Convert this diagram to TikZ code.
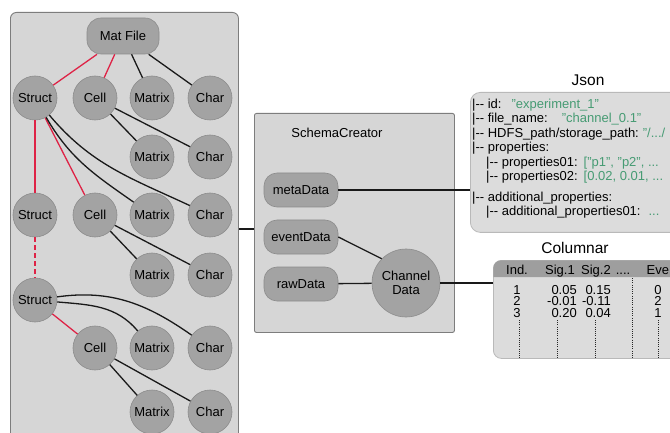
\documentclass[tikz,border=0pt]{standalone}
\usepackage{fontspec}
\setmainfont{Liberation Sans}
\definecolor{panelfill}{RGB}{214,214,214}
\definecolor{panelline}{RGB}{125,125,125}
\definecolor{nodefill}{RGB}{163,163,163}
\definecolor{nodeline}{RGB}{140,140,140}
\definecolor{linkred}{RGB}{222,35,70}
\definecolor{valgreen}{RGB}{70,155,115}
\definecolor{boxfill}{RGB}{220,220,220}
\definecolor{boxline}{RGB}{185,185,185}
\definecolor{headfill}{RGB}{158,158,158}
\newcommand\lblfont{\fontsize{13}{15}\selectfont}
\newcommand\ttlfont{\fontsize{15.5}{18}\selectfont}
\newcommand\jv[1]{\textcolor{valgreen}{#1}}
% tree branch marker: bar plus two separate hyphens
\newcommand\br{|-{}-~}
\begin{document}
\begin{tikzpicture}[x=1pt,y=-1pt,
  panel/.style={draw=panelline, fill=panelfill, line width=0.9pt, rounded corners=6pt, inner sep=0pt},
  ball/.style={circle, draw=nodeline, fill=nodefill, line width=0.6pt, minimum size=44pt, inner sep=0pt, font=\lblfont},
  pill/.style={draw=nodeline, fill=nodefill, line width=0.6pt, rounded corners=13pt, minimum width=74pt, minimum height=34pt, inner sep=0pt, font=\lblfont},
  blk/.style={line width=1.3pt, black!90},
  rd/.style={line width=1.3pt, linkred},
  txt/.style={inner sep=0pt, font=\lblfont},
  ttl/.style={inner sep=0pt, font=\ttlfont},
  jline/.style={anchor=base west, inner sep=0pt, font=\lblfont},
  num/.style={anchor=base, inner sep=0pt, font=\lblfont},
  dots/.style={line width=0.8pt, dash pattern=on 1pt off 1.2pt, black!85},
]
\useasboundingbox (0,0) rectangle (670,433);
\fill[white] (0,0) rectangle (670,433);
\clip (0,0) rectangle (670,433);

% ---------- MAT file tree ----------
\node[panel, anchor=north west, minimum width=228pt, minimum height=433pt] (matpanel) at (10,12) {};
\node[pill, minimum width=72pt, minimum height=36pt, rounded corners=14pt] (matfile) at (123,36) {Mat File};

\node[ball] (s1) at (35,98)  {Struct};
\node[ball] (c1) at (95,98)  {Cell};
\node[ball] (m1) at (152,98) {Matrix};
\node[ball] (h1) at (210,98) {Char};
\node[ball] (m2) at (152,157) {Matrix};
\node[ball] (h2) at (210,157) {Char};
\node[ball] (s3) at (35,215)  {Struct};
\node[ball] (c3) at (95,215)  {Cell};
\node[ball] (m3) at (152,215) {Matrix};
\node[ball] (h3) at (210,215) {Char};
\node[ball] (m4) at (152,275) {Matrix};
\node[ball] (h4) at (210,275) {Char};
\node[ball] (s5) at (35,300)  {Struct};
\node[ball] (c6) at (95,348)  {Cell};
\node[ball] (m6) at (152,348) {Matrix};
\node[ball] (h6) at (210,348) {Char};
\node[ball] (m7) at (152,412) {Matrix};
\node[ball] (h7) at (210,412) {Char};

\draw[rd]  (matfile) -- (s1);
\draw[rd]  (matfile) -- (c1);
\draw[blk] (matfile) -- (m1);
\draw[blk] (matfile) -- (h1);
\draw[blk] (c1) -- (m2);
\draw[blk] (c1) -- (h2);
\draw[rd]  (s1) -- (s3);
\draw[rd]  (s1) -- (c3);
\draw[blk] (s1) to[out=-60,in=145] (m3);
\draw[blk] (s1) to[out=-50,in=155] (h3);
\draw[blk] (c3) -- (m4);
\draw[blk] (c3) -- (h4);
\draw[rd, dash pattern=on 5pt off 3pt] (s3) -- (s5);
\draw[rd]  (s5) -- (c6);
\draw[blk] (s5) to[out=-5,in=130] (m6);
\draw[blk] (s5) to[out=8,in=145] (h6);
\draw[blk] (c6) -- (m7);
\draw[blk] (c6) -- (h7);

% ---------- schema creator ----------
\node[panel, rounded corners=2pt, anchor=north west, minimum width=200pt, minimum height=219pt] (schema) at (254,113) {};
\node[txt] (schematitle) at (337,133) {SchemaCreator};
\node[pill] (meta)  at (301,190) {metaData};
\node[pill] (event) at (301,237) {eventData};
\node[pill] (raw)   at (301,284) {rawData};
\node[ball, minimum size=68pt, align=center] (chan) at (406,283) {Channel\\[-1pt]Data};

\draw[blk] (matpanel.east) -- (matpanel.east -| schema.west);
\draw[blk] (event.east) -- (chan.135);
\draw[blk] (raw) -- (chan);

% ---------- JSON output ----------
\node[ttl] (jsontitle) at (588,80) {Json};
\node[draw=boxline, fill=boxfill, line width=0.8pt, rounded corners=10pt, anchor=north west,
      minimum width=230pt, minimum height=140pt, inner sep=0pt] (json) at (470,92) {};
\draw[blk] (meta.east) -- (meta.east -| json.west);

\node[jline] (j1) at (472,108.5) {\br id:\hspace{10pt}\jv{"experiment\_1"}};
\node[jline] (j2) at (472,123)   {\br file\_name:\hspace{14pt}\jv{"channel\_0.1"}};
\node[jline] (j3) at (472,137.5) {\br HDFS\_path/storage\_path:\hspace{4pt}\jv{"/.../}};
\node[jline] (j4) at (472,152)   {\br properties:};
\node[jline] (j5) at (486,166.5) {\br properties01:\hspace{6pt}\jv{["p1", "p2", ...}};
\node[jline] (j6) at (486,181)   {\br properties02:\hspace{6pt}\jv{[0.02, 0.01, ...}};
\node[jline] (j7) at (472,201.5) {\br additional\_properties:};
\node[jline] (j8) at (486,216)   {\br additional\_properties01:\hspace{8pt}\jv{...}};

% ---------- columnar output ----------
\node[ttl] (coltitle) at (575,248) {Columnar};
\node[draw=boxline, fill=boxfill, line width=0.8pt, rounded corners=8pt, anchor=north west,
      minimum width=210pt, minimum height=98pt, inner sep=0pt] (table) at (493,260) {};
\fill[headfill] (493.4,277) [rounded corners=7.6pt] -- (493.4,260.4) -- (703,260.4) [sharp corners] -- (703,277) -- cycle;
\draw[blk] (chan.east) -- (chan.east -| table.west);

\node[num] (hInd)  at (517,274) {Ind.};
\node[num] (hS1)   at (560,274) {Sig.1};
\node[num] (hS2)   at (596,274) {Sig.2};
\node[num] (hDots) at (623,274) {....};
\node[num, anchor=base west] (hEv) at (646.5,274) {Eve};

\node[num] (r1i) at (517,294) {1};
\node[num] (r2i) at (517,305.5) {2};
\node[num] (r3i) at (517,317) {3};
\node[num, anchor=base east] (r1a) at (577,294) {0.05};
\node[num, anchor=base east] (r2a) at (577,305.5) {-0.01};
\node[num, anchor=base east] (r3a) at (577,317) {0.20};
\node[num, anchor=base east] (r1b) at (611,294) {0.15};
\node[num, anchor=base east] (r2b) at (611,305.5) {-0.11};
\node[num, anchor=base east] (r3b) at (611,317) {0.04};
\node[num] (r1e) at (658,294) {0};
\node[num] (r2e) at (658,305.5) {2};
\node[num] (r3e) at (658,317) {1};

\draw[dots] (519,320) -- (519,358);
\draw[dots] (557,320) -- (557,358);
\draw[dots] (595,320) -- (595,358);
\draw[dots] (632,278) -- (632,358);
\draw[dots] (658,320) -- (658,358);
\end{tikzpicture}
\end{document}
